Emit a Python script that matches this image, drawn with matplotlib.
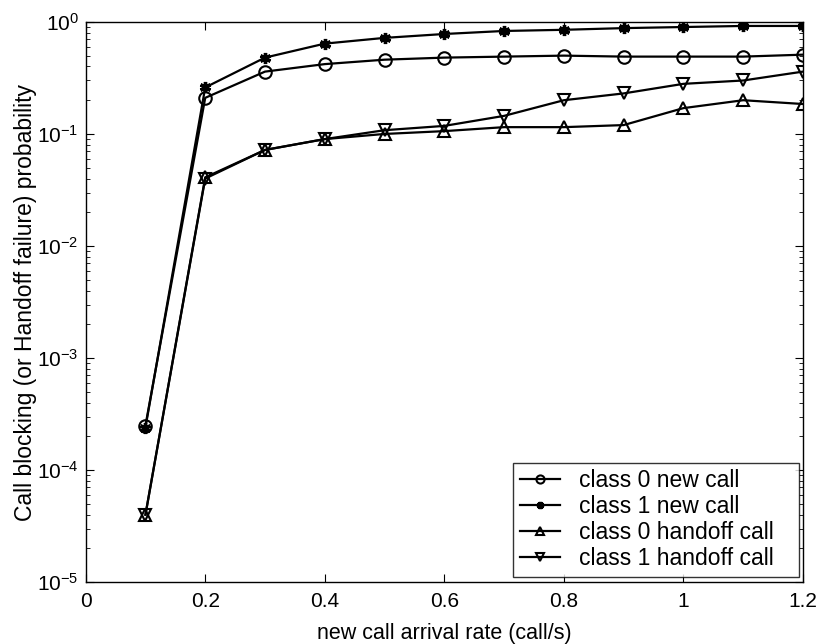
import matplotlib.pyplot as plt
from matplotlib.ticker import LogLocator, NullFormatter, FuncFormatter
import numpy as np

plt.rcParams['font.family'] = ['Liberation Sans', 'DejaVu Sans']

# arrival rates and blocking probabilities per class
rate = [0.1, 0.2, 0.3, 0.4, 0.5, 0.6, 0.7, 0.8, 0.9, 1.0, 1.1, 1.2]
class0_new = [2.5e-4, 0.21, 0.36, 0.42, 0.46, 0.48, 0.49, 0.50, 0.49, 0.49, 0.49, 0.51]
class1_new = [2.4e-4, 0.26, 0.48, 0.64, 0.72, 0.78, 0.83, 0.85, 0.88, 0.90, 0.92, 0.92]
class0_handoff = [4e-5, 0.041, 0.072, 0.09, 0.10, 0.106, 0.115, 0.115, 0.12, 0.17, 0.20, 0.185]
class1_handoff = [4e-5, 0.040, 0.072, 0.09, 0.108, 0.118, 0.145, 0.20, 0.23, 0.28, 0.30, 0.36]
xtick_labels = ['0', '0.2', '0.4', '0.6', '0.8', '1', '1.2']

fig = plt.figure(figsize=(8.16, 6.44), dpi=100)
ax = fig.add_axes([0.105, 0.096, 0.879, 0.870])

# trailing spaces give the legend box its wide right margin
style = dict(color='black', linewidth=1.6, markersize=9,
             markerfacecolor='none', markeredgewidth=1.5)
ax.plot(rate, class0_new, marker='o', label='class 0 new call   ', **style)
ax.plot(rate, class1_new, color='black', linewidth=1.6, marker=(6, 2, 0),
        markersize=8, markeredgewidth=2.4, label='class 1 new call   ')
ax.plot(rate, class0_handoff, marker='^', label='class 0 handoff call   ', **style)
ax.plot(rate, class1_handoff, marker='v', label='class 1 handoff call   ', **style)

ax.set_yscale('log')
ax.set_xlim(0, 1.2)
ax.set_ylim(1e-5, 1)
ax.set_xticks(np.linspace(0, 1.2, 7))
ax.set_xticklabels(xtick_labels)
ax.yaxis.set_major_locator(LogLocator(base=10, numticks=10))
ax.yaxis.set_major_formatter(FuncFormatter(
    lambda v, pos: r'$\mathregular{10^{%d}}$' % round(np.log10(v))))
ax.yaxis.set_minor_locator(LogLocator(base=10, subs=range(2, 10), numticks=10))
ax.yaxis.set_minor_formatter(NullFormatter())
ax.tick_params(which='both', direction='in', top=True, right=True, labelsize=15)
ax.tick_params(axis='y', which='major', pad=5)
ax.tick_params(axis='x', which='major', pad=7)
ax.tick_params(which='major', length=6)
ax.tick_params(which='minor', length=3)

ax.set_xlabel('new call arrival rate (call/s)', fontsize=15.5, labelpad=9)
ax.set_ylabel('Call blocking (or Handoff failure) probability', fontsize=16.5)
ax.yaxis.set_label_coords(-0.068, 0.5)

leg = ax.legend(loc='lower right', bbox_to_anchor=(0.995, 0.01), fontsize=16.5,
                frameon=True, fancybox=False, edgecolor='black',
                handlelength=1.75, borderaxespad=0.0, labelspacing=0.12,
                handletextpad=0.8, markerscale=0.65, borderpad=0.3)
leg.get_frame().set_linewidth(1.0)

for s in ax.spines.values():
    s.set_linewidth(1.0)

fig.savefig('out.png', dpi=100)
